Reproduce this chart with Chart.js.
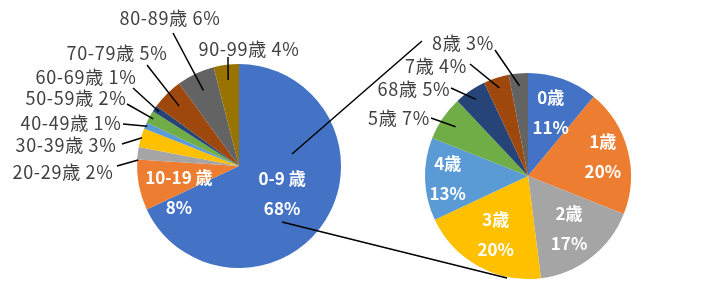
<!DOCTYPE html>
<html>
<head>
<meta charset="utf-8">
<script src="https://cdn.jsdelivr.net/npm/chart.js@4.4.0/dist/chart.umd.min.js"></script>
<style>
  body { margin: 0; background: #fff; }
  #wrap { position: relative; width: 720px; height: 298px; }
  #wrap canvas { position: absolute; left: 0; top: 0; }
</style>
</head>
<body>
<div id="wrap">
  <canvas id="leftPie" width="720" height="298"></canvas>
  <canvas id="rightPie" width="720" height="298"></canvas>
</div>
<script>
// age groups (whole population)
const ageLabels = ['0-9 歳', '10-19 歳', '20-29歳', '30-39歳', '40-49歳', '50-59歳', '60-69歳', '70-79歳', '80-89歳', '90-99歳'];
const ageValues = [68, 8, 2, 3, 1, 2, 1, 5, 6, 4];

// breakdown of 0-9
const childLabels = ['0歳', '1歳', '2歳', '3歳', '4歳', '5歳', '68歳', '7歳', '8歳'];
const childValues = [11, 20, 17, 20, 13, 7, 5, 4, 3];

const officeColors = ['#4472C4', '#ED7D31', '#A5A5A5', '#FFC000', '#5B9BD5', '#70AD47', '#264478', '#9E480E', '#636363', '#997300'];

// label placement: inside (f = radius factor) or outside (text offset, leader start, leader end factor)
const ageLabelLayout = [
    { inside: true, f: 0.5 },
    { inside: true, f: 0.6, dy: 15 },
    { tx: -176, ty: 6, lx: -122, ly: 0, f: 0.99, da: -3.8 },
    { tx: -173, ty: -21, lx: -117, ly: -22, f: 0.99 },
    { tx: -168, ty: -43, lx: -116, ly: -42, f: 0.98 },
    { tx: -163, ty: -68, lx: -112, ly: -62, f: 0.96 },
    { tx: -153, ty: -89, lx: -106, ly: -78, f: 0.95 },
    { tx: -122, ty: -113, lx: -92, ly: -101, f: 0.83 },
    { tx: -69, ty: -148, lx: -66, ly: -133, f: 0.82 },
    { tx: 10, ty: -117, lx: -11, ly: -109, f: 0.85 }
];
const childLabelLayout = [
    { inside: true, f: 0.65 },
    { inside: true, f: 0.75 },
    { inside: true, f: 0.65 },
    { inside: true, f: 0.65 },
    { inside: true, f: 0.78 },
    { tx: -129, ty: -58, lx: -97, ly: -58, f: 0.85 },
    { tx: -114, ty: -87, lx: -77, ly: -88, f: 0.9 },
    { tx: -92, ty: -110, lx: -58, ly: -112, f: 0.9 },
    { tx: -65, ty: -133, lx: -33, ly: -126, f: 0.88 }
];

const FONT = '"Noto Sans CJK JP", "Noto Sans", sans-serif';

const sliceLabels = {
    id: 'sliceLabels',
    afterDatasetsDraw(chart, args, opts) {
        const ctx = chart.ctx;
        const ds = chart.data.datasets[0];
        const total = ds.data.reduce((a, b) => a + b, 0);
        chart.getDatasetMeta(0).data.forEach((arc, i) => {
            const p = arc.getProps(['x', 'y', 'startAngle', 'endAngle', 'outerRadius'], true);
            const lay = opts.layout[i];
            const mid = (p.startAngle + p.endAngle) / 2 + (lay.da || 0) * Math.PI / 180;
            const pct = Math.round(ds.data[i] / total * 100) + '%';
            const name = chart.data.labels[i];
            ctx.save();
            ctx.textAlign = 'center';
            ctx.textBaseline = 'middle';
            if (lay.inside) {
                const r = p.outerRadius * lay.f;
                const cx = p.x + Math.cos(mid) * r;
                const cy = p.y + Math.sin(mid) * r + (lay.dy || 0);
                ctx.font = 'bold 17px ' + FONT;
                ctx.fillStyle = '#fff';
                ctx.fillText(name, cx, cy - 15);
                ctx.fillText(pct, cx, cy + 15);
            } else {
                ctx.font = '18px ' + FONT;
                ctx.letterSpacing = '0.7px';
                ctx.fillStyle = '#404040';
                ctx.fillText(name + ' ' + pct, p.x + lay.tx, p.y + lay.ty);
                const r = p.outerRadius * lay.f;
                ctx.strokeStyle = '#000';
                ctx.lineWidth = 1.5;
                ctx.beginPath();
                ctx.moveTo(p.x + lay.lx, p.y + lay.ly);
                ctx.lineTo(p.x + Math.cos(mid) * r, p.y + Math.sin(mid) * r);
                ctx.stroke();
            }
            ctx.restore();
        });
    }
};

function pieOptions(padding, layout) {
    return {
        responsive: false,
        animation: false,
        layout: { padding: padding },
        plugins: {
            legend: { display: false },
            tooltip: { enabled: false },
            sliceLabels: { layout: layout }
        }
    };
}

const leftChart = new Chart(document.getElementById('leftPie'), {
    type: 'pie',
    data: {
        labels: ageLabels,
        datasets: [{ data: ageValues, backgroundColor: officeColors, borderWidth: 0 }]
    },
    options: pieOptions({ left: 137, right: 379, top: 64, bottom: 30 }, ageLabelLayout),
    plugins: [sliceLabels]
});

// lines joining the 0-9 slice to the breakdown pie
const seriesLines = {
    id: 'seriesLines',
    afterDraw(chart) {
        const a = leftChart.getDatasetMeta(0).data[0];
        const b = chart.getDatasetMeta(0).data[0];
        const ctx = chart.ctx;
        ctx.save();
        ctx.strokeStyle = '#000';
        ctx.lineWidth = 1.5;
        ctx.beginPath();
        ctx.moveTo(a.x + 53, a.y - 12);
        ctx.lineTo(b.x - 106, b.y - 135);
        ctx.moveTo(a.x + 43, a.y + 56);
        ctx.lineTo(b.x - 21, b.y + 102);
        ctx.stroke();
        ctx.restore();
    }
};

const rightChart = new Chart(document.getElementById('rightPie'), {
    type: 'pie',
    data: {
        labels: childLabels,
        datasets: [{ data: childValues, backgroundColor: officeColors.slice(0, 9), borderWidth: 0 }]
    },
    options: pieOptions({ left: 425, right: 89, top: 73, bottom: 19 }, childLabelLayout),
    plugins: [sliceLabels, seriesLines]
});
</script>
</body>
</html>
